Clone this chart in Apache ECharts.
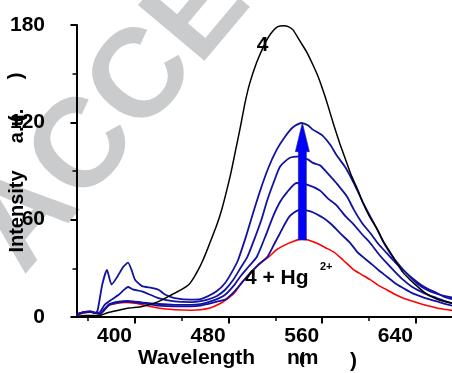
<!DOCTYPE html>
<html>
<head>
<meta charset="utf-8">
<script src="https://cdn.jsdelivr.net/npm/echarts@6/dist/echarts.min.js"></script>
<style>
html,body{margin:0;padding:0;background:#fff;}
#chart{width:452px;height:373px;}
</style>
</head>
<body>
<div id="chart"></div>
<script>
// ---- data (wavelength nm, intensity a.u.) ----
const xMajorTicks = [400, 480, 560, 640];
const xMinorTicks = [360, 440, 520, 600];

const curve4 = [[350,0.5],[358,1],[366,1],[370,1],[376,2.5],[385,4],[395,5.5],[406,6.5],[420,9.5],[432,14],[440,17],[446,20],[450,24],[454,29],[458,35],[462,42],[466,49.5],[470,57],[474,66],[478,77],[482,89],[486,103],[490,117],[494,132],[498,144],[504,157],[510,167],[514,172.5],[518,176.5],[522,179],[527,179.6],[531,179],[535,177],[541,170],[547,163],[552,155.5],[556,149],[561,139],[565,130],[570,118],[575,107],[580,97],[585,87],[590,79],[595,70],[600,62.5],[607,54],[612,47],[618,40],[624,33],[629,27.5],[635,23],[641,19],[646,16],[652,13],[660,10.5],[671,8.5]];

const blue4 = [[350,1.5],[356,3],[362,3.5],[366,2.5],[368,4],[372,20],[376,29],[380,20],[385,25],[390,31],[394,33.5],[397,29],[400,23],[406,19],[414,18],[420,16.8],[426,13.7],[434,11.7],[448,10.7],[456,11],[462,12.7],[470,16],[477,21],[483,28],[488,35],[495,50],[500,62],[507,78],[514,92],[521,103],[528,111],[535,117],[542,119.6],[548,118],[552,115.5],[560,112],[567,106],[572,100],[580,92],[586,84],[590,78],[595,70.3],[601,62],[607,54],[612,46.5],[618,39.5],[624,33.5],[630,28.5],[636,24],[642,20],[650,16.5],[657,14.5],[664,13],[671,12]];

const blue3 = [[350,1.5],[356,3],[362,3.5],[366,2.5],[370,3],[374,7.5],[380,10.7],[386,13.7],[391,17],[394,18.5],[398,17],[406,15.8],[420,11.7],[434,9.6],[448,9.2],[456,9.8],[462,10.7],[470,13],[477,16.8],[484,23],[490,30],[496,37],[502,48],[508,60],[513,72],[519,84],[524,92.8],[532,98],[541,99],[548,97],[552,95],[558,93.5],[567,86.7],[572,82.6],[581,74.4],[587,66.2],[594,58],[601,51.8],[608,45],[615,39.5],[622,34],[629,29],[636,24.5],[644,20],[651,17],[658,14.8],[664,12.5],[671,11]];

const blue2 = [[350,1.5],[356,2.8],[362,3.2],[366,2.5],[370,2],[374,5],[378,8],[386,9.5],[394,10],[400,9.5],[406,9],[420,8],[434,7.5],[448,7.5],[456,8],[462,9],[470,11],[477,13.7],[484,19],[490,25],[497,31],[504,37],[511,49],[518,62],[524,71],[530,77],[538,82.6],[547,81.6],[558,78],[565,73],[572,69],[580,62],[587,57],[594,51],[601,45.6],[608,39],[615,33.3],[622,28],[629,23],[636,19],[644,15.8],[651,13.5],[658,11.7],[664,10],[671,8.5]];

const blue1 = [[350,1.5],[356,2.8],[362,3.2],[366,2.5],[370,2],[374,4.5],[378,7.5],[386,9],[394,9.5],[400,9],[406,8.5],[420,7],[434,6.5],[448,6.5],[456,7],[462,8],[470,9.5],[477,10.7],[484,15],[490,20],[497,26],[505,32],[513,37],[519,45],[524,51.8],[532,62],[541,66.2],[550,65.1],[561,61],[568,57],[575,51.8],[584,45.6],[590,40],[601,33.3],[608,29],[615,25],[622,21],[629,17.9],[636,15],[644,12.7],[651,11],[658,9.6],[664,8.3],[671,7]];

const curveHg = [[350,1],[356,2.5],[362,3],[366,2.5],[370,1.5],[373,3.5],[377,7],[385,8.5],[392,9],[400,8.5],[406,7.6],[420,5.5],[434,4.5],[448,4.2],[456,4.5],[464,5.5],[472,8],[478,10.7],[485,15],[492,22],[500,28],[507,33],[515,37.5],[521,41.5],[527,44],[535,46.5],[542,48],[548,47.5],[555,45.6],[562,43],[570,40],[578,35],[587,29],[594,26],[601,23],[608,19.5],[615,16.8],[622,14],[629,11.7],[636,10],[644,8.2],[651,6.8],[658,5.5],[664,4.8],[671,4.1]];

// arrow: [wavelength, from, to]
const arrowData = [[543, 47.5, 119.8]];

// ---- chart ----
const FONT = 'Liberation Sans, Arial, sans-serif';
const chart = echarts.init(document.getElementById('chart'), null, {renderer: 'canvas'});
const DEG = Math.PI / 180;

function lineSeries(data, color, width) {
  return {
    type: 'line', data: data, xAxisIndex: 0, yAxisIndex: 0,
    showSymbol: false, symbol: 'none', smooth: 0.2,
    lineStyle: {color: color, width: width}, z: 3, silent: true
  };
}

const option = {
  animation: false,
  backgroundColor: '#ffffff',
  grid: {left: 77, top: 25, right: 0, bottom: 56, containLabel: false},
  xAxis: [{
    type: 'value', min: 350.4, max: 670.9,
    axisLine: {show: true, lineStyle: {color: '#000', width: 2}},
    axisTick: {show: true, customValues: xMajorTicks, length: 6.5, lineStyle: {color: '#000', width: 2}},
    axisLabel: {customValues: xMajorTicks, align: 'right', padding: [0, 3, 0, 0], margin: 9,
      color: '#000', fontSize: 21, fontWeight: 'bold', fontFamily: FONT},
    splitLine: {show: false}
  }, {
    type: 'value', min: 350.4, max: 670.9, position: 'bottom',
    axisLine: {show: false},
    axisTick: {show: true, customValues: xMinorTicks, length: 4, lineStyle: {color: '#000', width: 1.5}},
    axisLabel: {show: false},
    splitLine: {show: false}
  }],
  yAxis: {
    type: 'value', min: 0, max: 180, interval: 60,
    axisLine: {show: true, lineStyle: {color: '#000', width: 2}},
    axisTick: {show: true, length: 6.5, lineStyle: {color: '#000', width: 2}},
    minorTick: {show: true, splitNumber: 2, length: 4.5, lineStyle: {color: '#000', width: 1.5}},
    axisLabel: {margin: 32, color: '#000', fontSize: 21, fontWeight: 'bold', fontFamily: FONT},
    splitLine: {show: false}, minorSplitLine: {show: false}
  },
  graphic: [
    {type: 'text', x: -3, y: 254, rotation: 50 * DEG, z: -100, silent: true,
      style: {text: 'ACCEPTED MANUSCRIPT', fill: '#cacbcc', font: 'bold 126px ' + FONT,
        textAlign: 'left', textVerticalAlign: 'middle'}},
    {type: 'text', x: 262.5, y: 45, z: 100, style: {text: '4', fill: '#000', font: 'bold 21px ' + FONT, textAlign: 'center', textVerticalAlign: 'middle'}},
    {type: 'text', x: 245, y: 278.5, z: 100, style: {text: '4 + Hg', fill: '#000', font: 'bold 21px ' + FONT, textAlign: 'left', textVerticalAlign: 'middle'}},
    {type: 'text', x: 320, y: 267, z: 100, style: {text: '2+', fill: '#000', font: 'bold 11px ' + FONT, textAlign: 'left', textVerticalAlign: 'middle'}},
    {type: 'text', x: 138, y: 358, z: 100, style: {text: 'Wavelength', fill: '#000', font: 'bold 21px ' + FONT, textAlign: 'left', textVerticalAlign: 'middle'}},
    {type: 'text', x: 287, y: 358, z: 100, style: {text: 'nm', fill: '#000', font: 'bold 21px ' + FONT, textAlign: 'left', textVerticalAlign: 'middle'}},
    {type: 'text', x: 299, y: 359, z: 100, style: {text: '(', fill: '#000', font: 'bold 17px ' + FONT, textAlign: 'left', textVerticalAlign: 'middle'}},
    {type: 'text', x: 350, y: 361, z: 100, style: {text: ')', fill: '#000', font: 'bold 21px ' + FONT, textAlign: 'left', textVerticalAlign: 'middle'}},
    {type: 'text', x: 17.5, y: 211.5, rotation: 90 * DEG, z: 100, style: {text: 'Intensity', fill: '#000', font: 'bold 20px ' + FONT, textAlign: 'center', textVerticalAlign: 'middle'}},
    {type: 'text', x: 17.5, y: 126, rotation: 90 * DEG, z: 100, style: {text: 'a.u.', fill: '#000', font: 'bold 20px ' + FONT, textAlign: 'center', textVerticalAlign: 'middle'}},
    {type: 'text', x: 17.5, y: 119, rotation: 90 * DEG, z: 100, style: {text: '(', fill: '#000', font: 'bold 20px ' + FONT, textAlign: 'center', textVerticalAlign: 'middle'}},
    {type: 'text', x: 16, y: 76, rotation: 90 * DEG, z: 100, style: {text: ')', fill: '#000', font: 'bold 20px ' + FONT, textAlign: 'center', textVerticalAlign: 'middle'}}
  ],
  series: [
    lineSeries(curveHg, '#ff0000', 1.6),
    lineSeries(blue1, '#1212a0', 1.8),
    lineSeries(blue2, '#1212a0', 1.8),
    lineSeries(blue3, '#1212a0', 1.8),
    lineSeries(blue4, '#1212a0', 1.8),
    lineSeries(curve4, '#000000', 1.5),
    {
      type: 'custom', data: arrowData, xAxisIndex: 0, yAxisIndex: 0, z: 10, silent: true,
      encode: {x: 0, y: [1, 2]},
      renderItem: function (params, api) {
        const p0 = api.coord([api.value(0), api.value(1)]);
        const p1 = api.coord([api.value(0), api.value(2)]);
        const sw = 4, hw = 7, hl = 29;
        const cx = p0[0];
        return {
          type: 'polygon',
          shape: {points: [
            [cx - sw, p0[1]], [cx - sw, p1[1] + hl], [cx - hw, p1[1] + hl], [cx, p1[1]],
            [cx + hw, p1[1] + hl], [cx + sw, p1[1] + hl], [cx + sw, p0[1]]
          ]},
          style: {fill: '#0000ff', stroke: '#222266', lineWidth: 0.6}
        };
      }
    }
  ]
};
chart.setOption(option);
</script>
</body>
</html>
